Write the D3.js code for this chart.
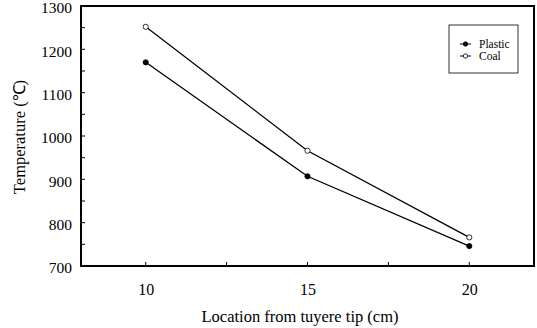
<!DOCTYPE html>
<html><head><meta charset="utf-8">
<script src="https://cdn.jsdelivr.net/npm/d3@7/dist/d3.min.js"></script>
<style>body{margin:0;background:#fff}svg{display:block}text{font-family:"Liberation Serif","Times New Roman",serif;fill:#000}</style>
</head><body><svg id="c" width="537" height="328"></svg>
<script>
const locations = [10, 15, 20];
const plastic = [1170, 907, 746];
const coal = [1252, 966, 766];
const xTicks = [10, 15, 20];
const yTicks = [700, 800, 900, 1000, 1100, 1200, 1300];
const seriesNames = ["Plastic", "Coal"];

const svg = d3.select("#c");
const L = 81, R = 534, T = 6, B = 266;
const x = d3.scaleLinear().domain([8, 22]).range([L, R]);
const y = d3.scaleLinear().domain([700, 1300]).range([B, T]);

const g = svg.append("g");
const xMinor = d3.range(10, 22, 2.5);
g.selectAll(".xm").data(xMinor).join("line")
  .attr("x1", d => x(d)).attr("x2", d => x(d)).attr("y1", B).attr("y2", B - 4)
  .attr("stroke", "#000").attr("stroke-width", 1);
const yMinor = d3.range(750, 1300, 50);
g.selectAll(".ym").data(yMinor).join("line")
  .attr("x1", L).attr("x2", L + 4).attr("y1", d => y(d)).attr("y2", d => y(d))
  .attr("stroke", "#000").attr("stroke-width", 1);

const xAxis = svg.append("g").attr("transform", `translate(0,${B})`)
  .call(d3.axisBottom(x).tickValues(xTicks).tickSize(0).tickPadding(18).tickFormat(d3.format("d")));
xAxis.attr("font-family", '"Liberation Serif",serif').attr("font-size", 16);
xAxis.select(".domain").remove();

const yAxis = svg.append("g").attr("transform", `translate(${L},2)`)
  .call(d3.axisLeft(y).tickValues(yTicks).tickSize(0).tickPadding(9).tickFormat(d3.format("d")));
yAxis.attr("font-family", '"Liberation Serif",serif').attr("font-size", 15.5);
yAxis.select(".domain").remove();

svg.append("rect").attr("x", L).attr("y", T).attr("width", R - L).attr("height", B - T)
  .attr("fill", "none").attr("stroke", "#000").attr("stroke-width", 2);

const line = d3.line().x((d, i) => x(locations[i])).y(d => y(d));
[[plastic, true], [coal, false]].forEach(([vals, filled]) => {
  svg.append("path").attr("d", line(vals)).attr("fill", "none").attr("stroke", "#000").attr("stroke-width", 1.3);
  svg.selectAll(null).data(vals).join("circle")
    .attr("cx", (d, i) => x(locations[i])).attr("cy", d => y(d)).attr("r", 2.6)
    .attr("fill", filled ? "#000" : "#fff").attr("stroke", "#000").attr("stroke-width", 0.8);
});

svg.append("text").attr("x", 300).attr("y", 322).attr("text-anchor", "middle")
  .attr("font-size", 16.5).text("Location from tuyere tip (cm)");
svg.append("text").attr("transform", `translate(25,137) rotate(-90)`).attr("text-anchor", "middle")
  .attr("font-size", 16.5).text("Temperature (℃)");

const lg = svg.append("g");
lg.append("rect").attr("x", 449).attr("y", 25).attr("width", 69).attr("height", 48)
  .attr("fill", "#fff").attr("stroke", "#000").attr("stroke-width", 0.8);
seriesNames.forEach((n, i) => {
  const yy = 44 + i * 12;
  lg.append("line").attr("x1", 460).attr("x2", 471).attr("y1", yy).attr("y2", yy).attr("stroke", "#000").attr("stroke-width", 1);
  lg.append("circle").attr("cx", 465.5).attr("cy", yy).attr("r", 2.2)
    .attr("fill", i === 0 ? "#000" : "#fff").attr("stroke", "#000").attr("stroke-width", 0.8);
  lg.append("text").attr("x", 479).attr("y", yy + 4).attr("font-size", 11.5).text(n);
});
</script></body></html>
